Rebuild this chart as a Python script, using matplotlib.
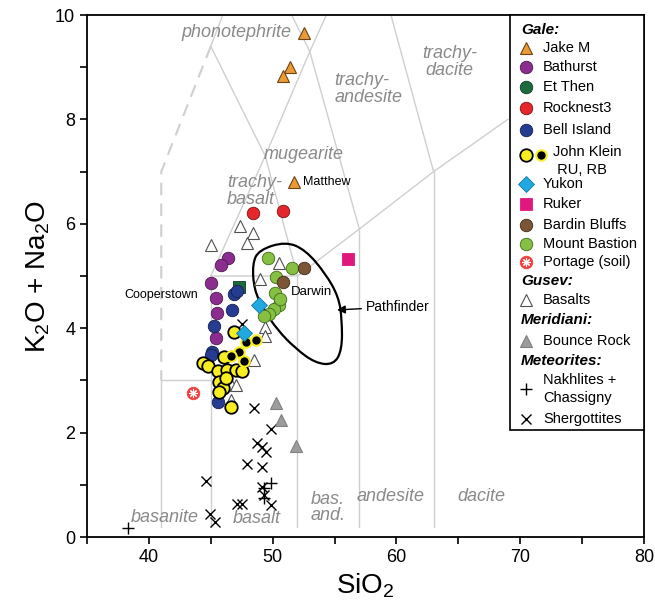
import matplotlib
matplotlib.use('Agg')
import numpy as np
import matplotlib.pyplot as plt
from matplotlib.path import Path
from matplotlib.patches import PathPatch, Rectangle

plt.rcParams['font.family'] = ['Liberation Sans', 'DejaVu Sans']
plt.rcParams['mathtext.default'] = 'regular'

# ---- data (SiO2, K2O + Na2O) ----
jake_m_x = [52.5, 51.4, 50.8, 51.7]
jake_m_y = [9.66, 9.0, 8.83, 6.81]
bathurst_x = [46.4, 45.8, 45.0, 45.4, 45.5, 45.4]
bathurst_y = [5.34, 5.21, 4.87, 4.57, 4.3, 3.82]
et_then_x = [47.3]
et_then_y = [4.78]
rocknest3_x = [48.4, 50.8]
rocknest3_y = [6.21, 6.25]
bell_island_x = [46.9, 47.1, 46.7, 45.3, 45.1, 45.0, 45.6]
bell_island_y = [4.66, 4.72, 4.35, 4.05, 3.55, 3.48, 2.59]
john_klein_x = [46.9, 46.1, 44.4, 44.8, 45.55, 46.35, 47.0, 47.55, 45.7, 45.95, 45.7, 46.6, 46.2]
john_klein_y = [3.93, 3.45, 3.33, 3.28, 3.18, 3.2, 3.2, 3.18, 2.97, 2.85, 2.78, 2.5, 3.05]
ru_rb_x = [47.85, 48.65, 47.3, 46.65, 47.7]
ru_rb_y = [3.74, 3.77, 3.55, 3.47, 3.38]
yukon_x = [48.9, 47.7]
yukon_y = [4.44, 3.9]
ruker_x = [56.1]
ruker_y = [5.32]
bardin_x = [50.8, 52.5]
bardin_y = [4.88, 5.15]
bastion_x = [49.6, 50.25, 51.6, 50.2, 50.5, 50.1, 49.7, 49.3, 50.6]
bastion_y = [5.35, 4.99, 5.15, 4.68, 4.45, 4.37, 4.27, 4.24, 4.55]
portage_x = [43.55]
portage_y = [2.75]
gusev_x = [45.0, 47.35, 48.4, 47.95, 50.5, 48.95, 49.4, 49.35, 48.5, 46.6, 47.0, 46.6]
gusev_y = [5.59, 5.95, 5.83, 5.63, 5.25, 4.94, 4.03, 3.86, 3.39, 2.94, 2.91, 2.62]
bounce_x = [50.25, 50.7, 51.9]
bounce_y = [2.56, 2.25, 1.74]
nakhlite_x = [38.3, 49.9, 49.3, 49.3]
nakhlite_y = [0.17, 1.03, 0.93, 0.74]
shergottite_x = [48.5, 49.85, 48.75, 49.15, 49.45, 47.9, 49.15, 44.6, 49.15, 49.3,
                 47.1, 47.5, 49.85, 44.95, 45.35, 47.55]
shergottite_y = [2.48, 2.06, 1.81, 1.72, 1.63, 1.39, 1.35, 1.08, 0.96, 0.8,
                 0.63, 0.63, 0.61, 0.45, 0.29, 4.09]

# Pathfinder outline
pathfinder_x = [51.05, 48.9, 48.36, 48.5, 49.3, 50.37, 51.85, 53.46, 54.93, 55.6, 55.6, 55.33, 54.26, 52.65]
pathfinder_y = [5.66, 5.5, 5.24, 4.73, 4.35, 3.97, 3.61, 3.33, 3.3, 3.58, 4.16, 4.6, 5.05, 5.5]

# TAS field boundaries (Le Bas et al.)
tas_lines = [
    ([41, 41, 45], [0.2, 3, 3]),
    ([45, 45], [0.2, 5]),
    ([52, 52], [0.2, 5]),
    ([57, 57], [0.2, 5.9]),
    ([63, 63], [0.2, 7]),
    ([45, 52, 57, 63, 69], [5, 5, 5.9, 7, 8]),
    ([45, 49.4, 53, 57.6], [5, 7.3, 9.3, 11.7]),
    ([49.4, 52], [7.3, 5]),
    ([53, 57], [9.3, 5.9]),
    ([57.6, 63], [11.7, 7]),
    ([45, 49.4], [9.4, 7.3]),
    ([45, 48.4], [9.4, 11.5]),
    ([48.4, 53], [11.5, 9.3]),
]
dashed_x = [45, 41, 41]
dashed_y = [9.4, 7, 3]

field_labels = [
    ('phonotephrite', 47.1, 9.66, 'center'),
    ('trachy-\nandesite', 55.0, 8.58, 'left'),
    ('trachy-\ndacite', 64.3, 9.1, 'center'),
    ('mugearite', 52.5, 7.32, 'center'),
    ('trachy-\nbasalt', 46.3, 6.63, 'left'),
    ('basanite', 41.3, 0.38, 'center'),
    ('basalt', 48.7, 0.36, 'center'),
    ('bas.\nand.', 53.1, 0.57, 'left'),
    ('andesite', 59.5, 0.77, 'center'),
    ('dacite', 66.9, 0.77, 'center'),
]

styles = {
    'Jake M': dict(marker='^', ms=9, mfc='#ec9a35', mec='#6b4513', mew=0.8),
    'Bathurst': dict(marker='o', ms=9, mfc='#8b2d8f', mec='#4a1a4c', mew=0.6),
    'Et Then': dict(marker='o', ms=9, mfc='#1c6b3d', mec='#0e3a20', mew=0.6),
    'Rocknest3': dict(marker='o', ms=9, mfc='#e5262b', mec='#7a1416', mew=0.6),
    'Bell Island': dict(marker='o', ms=9, mfc='#263c90', mec='#14204c', mew=0.6),
    'John Klein': dict(marker='o', ms=9, mfc='#f7ee22', mec='black', mew=1.3),
    'RU, RB': dict(marker='o', ms=7.5, mfc='black', mec='#f7ee22', mew=1.5),
    'Yukon': dict(marker='D', ms=8, mfc='#22a8e0', mec='#1478a0', mew=0.6),
    'Ruker': dict(marker='s', ms=9, mfc='#e0177d', mec='#e0177d', mew=0.6),
    'Bardin Bluffs': dict(marker='o', ms=9, mfc='#7b5535', mec='#3e2a1a', mew=0.6),
    'Mount Bastion': dict(marker='o', ms=9, mfc='#86c043', mec='#3f6a1a', mew=0.6),
    'Portage (soil)': dict(marker='o', ms=9, mfc='#f04040', mec='#f04040', mew=0.6),
    'Basalts': dict(marker='^', ms=8, mfc='white', mec='#505050', mew=0.8),
    'Bounce Rock': dict(marker='^', ms=9, mfc='#9c9c9c', mec='#808080', mew=0.8),
    'Nakhlites': dict(marker='+', ms=9, mfc='none', mec='black', mew=1.0),
    'Shergottites': dict(marker='x', ms=7, mfc='none', mec='black', mew=1.0),
}
portage_star = dict(marker=(8, 2, 0), ms=6, mec='white', mew=0.8)

fig = plt.figure(figsize=(6.55, 6.08), dpi=100)
ax = fig.add_axes([87 / 655, 1 - 537 / 608, 557 / 655, 522 / 608])

for xs, ys in tas_lines:
    ax.plot(xs, ys, color='#cfcfcf', lw=1.0, zorder=1)
ax.plot(dashed_x, dashed_y, color='#cfcfcf', lw=1.5, ls=(0, (6, 4)), zorder=1)

for txt, x, y, ha in field_labels:
    ax.text(x, y, txt, ha=ha, va='center', fontsize=13, style='italic',
            color='#8a8a8a', linespacing=0.95, zorder=2)

# Pathfinder outline as a smooth closed curve
pts = np.column_stack([pathfinder_x, pathfinder_y])
mids = (pts + np.roll(pts, -1, axis=0)) / 2
verts = [mids[-1]]
codes = [Path.MOVETO]
for i in range(len(pts)):
    verts += [pts[i], mids[i]]
    codes += [Path.CURVE3, Path.CURVE3]
ax.add_patch(PathPatch(Path(verts, codes), fc='none', ec='black', lw=1.6, zorder=3))

series = [
    ('Shergottites', shergottite_x, shergottite_y),
    ('Nakhlites', nakhlite_x, nakhlite_y),
    ('Bounce Rock', bounce_x, bounce_y),
    ('Basalts', gusev_x, gusev_y),
    ('Portage (soil)', portage_x, portage_y),
    ('Jake M', jake_m_x, jake_m_y),
    ('Rocknest3', rocknest3_x, rocknest3_y),
    ('Ruker', ruker_x, ruker_y),
    ('Bathurst', bathurst_x, bathurst_y),
    ('Bell Island', bell_island_x, bell_island_y),
    ('Mount Bastion', bastion_x, bastion_y),
    ('Bardin Bluffs', bardin_x, bardin_y),
    ('John Klein', john_klein_x, john_klein_y),
    ('RU, RB', ru_rb_x, ru_rb_y),
    ('Yukon', yukon_x, yukon_y),
]
for i, (name, xs, ys) in enumerate(series):
    ax.plot(xs, ys, ls='none', zorder=4 + i * 0.01, **styles[name])
ax.plot(et_then_x, et_then_y, ls='none', marker='s', ms=9, mfc='#1c6b3d',
        mec='#0e3a20', mew=0.6, zorder=4.05)
ax.plot(portage_x, portage_y, ls='none', zorder=4.2, **portage_star)

# annotations
ax.text(jake_m_x[3] + 0.75, jake_m_y[3], 'Matthew', fontsize=9, va='center', zorder=4)
ax.text(44.0, 4.64, 'Cooperstown', fontsize=9, va='center', ha='right', zorder=4)
ax.text(51.45, 4.7, 'Darwin', fontsize=9.5, va='center', ha='left', zorder=4)
ax.annotate('Pathfinder', xy=(55.2, 4.35), xytext=(57.5, 4.41), fontsize=10,
            va='center', ha='left', zorder=4,
            arrowprops=dict(arrowstyle='-|>', color='black', lw=1.0,
                            mutation_scale=12, shrinkA=1, shrinkB=0))

ax.set_xlim(35, 80)
ax.set_ylim(0, 10)
xt = np.arange(35, 81, 5)
ax.set_xticks(xt)
ax.set_xticklabels([str(v) if v % 10 == 0 else '' for v in xt])
yt = np.arange(0, 11, 1)
ax.set_yticks(yt)
ax.set_yticklabels([str(v) if v % 2 == 0 else '' for v in yt])
ax.tick_params(direction='out', length=5, width=1.2, labelsize=13, colors='black')
for sp in ax.spines.values():
    sp.set_linewidth(1.3)
ax.set_xlabel('SiO$_2$', fontsize=20, labelpad=4)
ax.set_ylabel('K$_2$O + Na$_2$O', fontsize=20, labelpad=2)

# ---- legend box (drawn by hand in axes coordinates) ----
def ax_xy(px, py):
    return (px - 87) / 557.0, (537 - py) / 522.0

x0, y0 = ax_xy(510, 430)
ax.add_patch(Rectangle((x0, y0), 1 - x0, 1 - y0, transform=ax.transAxes,
                       fc='white', ec='black', lw=1.2, zorder=10, clip_on=False))

headers = [('Gale:', 30), ('Gusev:', 281), ('Meridiani:', 320), ('Meteorites:', 361)]
for txt, py in headers:
    hx, hy = ax_xy(521, py)
    ax.text(hx, hy, txt, transform=ax.transAxes, fontsize=11, weight='bold',
            style='italic', va='center', ha='left', zorder=11)

entries = [
    ('Jake M', 'Jake M', 48),
    ('Bathurst', 'Bathurst', 67),
    ('Et Then', 'Et Then', 87),
    ('Rocknest3', 'Rocknest3', 108),
    ('Bell Island', 'Bell Island', 130),
    ('Yukon', 'Yukon', 184),
    ('Ruker', 'Ruker', 204),
    ('Bardin Bluffs', 'Bardin Bluffs', 225),
    ('Mount Bastion', 'Mount Bastion', 244),
    ('Portage (soil)', 'Portage (soil)', 262),
    ('Basalts', 'Basalts', 300),
    ('Bounce Rock', 'Bounce Rock', 341),
    ('Nakhlites', 'Nakhlites +\nChassigny', 389),
    ('Shergottites', 'Shergottites', 419),
]
for key, label, py in entries:
    mx, my = ax_xy(526, py)
    tx, _ = ax_xy(543, py)
    ax.plot([mx], [my], transform=ax.transAxes, ls='none', clip_on=False,
            zorder=11, **styles[key])
    ax.text(tx, my, label, transform=ax.transAxes, fontsize=10.5, va='center',
            ha='left', linespacing=1.3, zorder=11)
mx, my = ax_xy(526, 262)
ax.plot([mx], [my], transform=ax.transAxes, ls='none', clip_on=False,
        zorder=11.5, **portage_star)

# John Klein + RU, RB
mx, my = ax_xy(526, 155)
ax.plot([mx], [my], transform=ax.transAxes, ls='none', clip_on=False,
        zorder=11, **styles['John Klein'])
mx2, _ = ax_xy(541, 155)
ax.plot([mx2], [my], transform=ax.transAxes, ls='none', clip_on=False,
        zorder=11, **styles['RU, RB'])
tx, ty = ax_xy(553, 161)
ax.text(tx, ty, 'John Klein\n RU, RB', transform=ax.transAxes, fontsize=10.5,
        va='center', ha='left', linespacing=1.3, zorder=11)

fig.savefig('out.png', dpi=100)
